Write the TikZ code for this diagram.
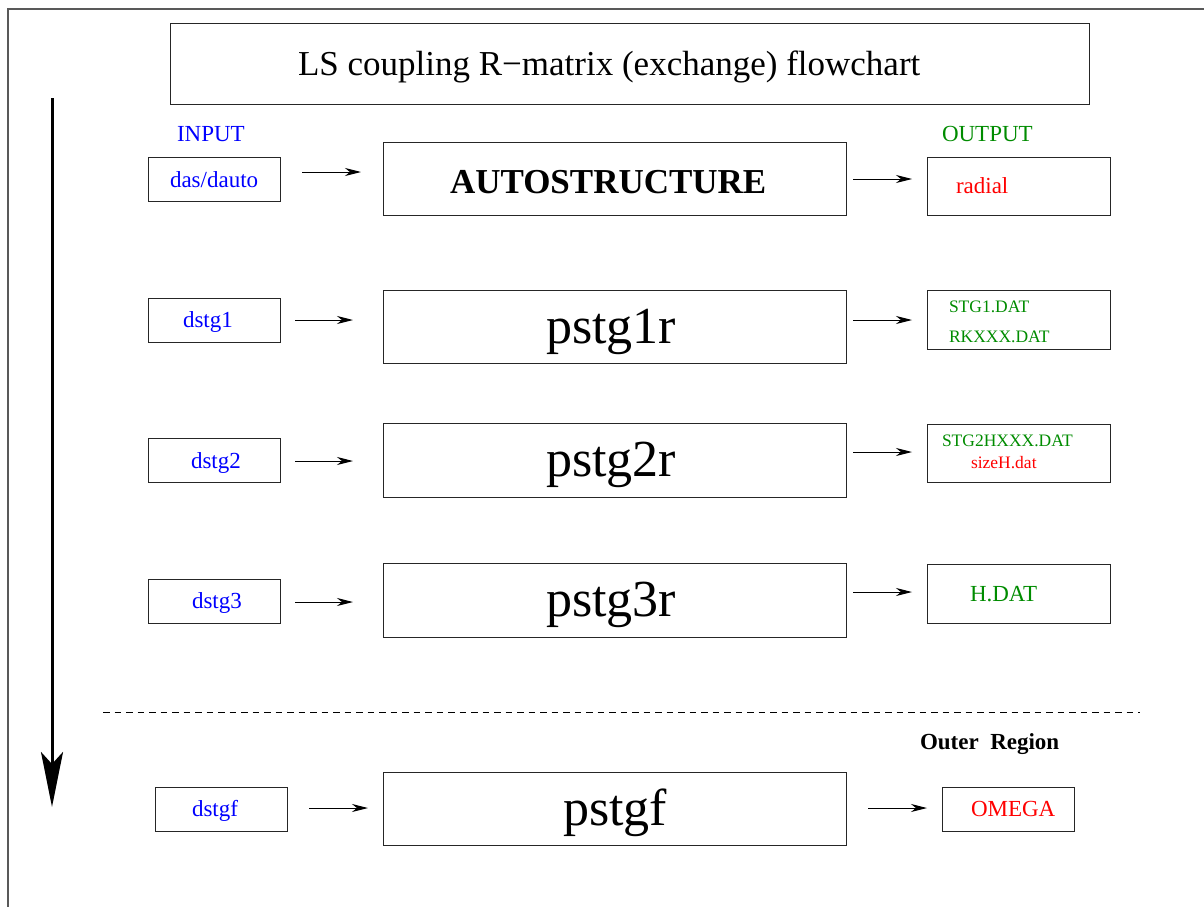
\documentclass[tikz,border=0pt]{standalone}
\usepackage{fontspec}
\setmainfont{Liberation Serif}
\usetikzlibrary{arrows.meta}
\definecolor{ogreen}{RGB}{0,140,0}
\definecolor{iblue}{RGB}{0,0,255}
\definecolor{ored}{RGB}{255,0,0}
\tikzset{
  boxnode/.style={draw=black!85, line width=1pt, inner sep=0pt, outer sep=0pt},
  txt/.style={anchor=base west, inner sep=0pt, outer sep=0pt},
  small/.style={txt, font=\fontsize{23}{26}\selectfont},
  tiny/.style={txt, font=\fontsize{17.5}{20}\selectfont, text=ogreen},
  prog/.style={txt, font=\fontsize{52}{56}\selectfont},
  arr/.style={line width=1pt, -{Stealth[length=16pt,width=8pt,inset=5pt]}},
  bigarr/.style={line width=3pt, -{Stealth[length=55pt,width=22pt,inset=12pt]}},
  frameline/.style={draw=black!65, line width=1.3pt},
}
\newcommand{\boxat}[5]{\node[boxnode, minimum width=#4pt-#2pt, minimum height=#5pt-#3pt, anchor=north west] (#1) at (#2,#3) {};}
\begin{document}
\begin{tikzpicture}[x=1pt,y=-1pt]
\useasboundingbox (0,0) rectangle (1204,907);
\fill[white] (0,0) rectangle (1204,907);
% frame
\draw[frameline] (8,907) -- (8,9) -- (1204,9);
% title
\boxat{title}{170}{24}{1089}{104}
\node[txt, font=\fontsize{35}{40}\selectfont] (titletext) at (298,75) {LS coupling R\textminus matrix (exchange) flowchart};
% big arrow
\coordinate (bigtop) at (52,98);
\coordinate (bigbot) at (52,807);
\draw[bigarr] (bigtop) -- (bigbot);
% headers
\node[small, text=iblue] (input) at (177,141) {INPUT};
\node[small, text=ogreen] (output) at (942,141) {OUTPUT};
% row 1
\boxat{in1}{148}{157}{280}{201}
\node[small, text=iblue] (in1t) at (170,187) {das/dauto};
\boxat{main1}{383}{142}{846}{215}
\node[txt, font=\bfseries\fontsize{35}{40}\selectfont] (main1t) at (450,193) {AUTOSTRUCTURE};
\boxat{out1}{927}{157}{1110}{215}
\node[small, text=ored] (out1t) at (956,193) {radial};
\coordinate (a1s) at (302,172); \coordinate (a1e) at (361,172);
\coordinate (b1s) at (853,179); \coordinate (b1e) at (912,179);
\draw[arr] (a1s) -- (a1e);
\draw[arr] (b1s) -- (b1e);
% row 2
\boxat{in2}{148}{298}{280}{342}
\node[small, text=iblue] (in2t) at (183,327) {dstg1};
\boxat{main2}{383}{290}{846}{363}
\node[prog] (main2t) at (546,343) {pstg1r};
\boxat{out2}{927}{290}{1110}{349}
\node[tiny] (out2a) at (949,312) {STG1.DAT};
\node[tiny] (out2b) at (949,342) {RKXXX.DAT};
\coordinate (a2s) at (295,320); \coordinate (a2e) at (353,320);
\coordinate (b2s) at (853,320); \coordinate (b2e) at (912,320);
\draw[arr] (a2s) -- (a2e);
\draw[arr] (b2s) -- (b2e);
% row 3
\boxat{in3}{148}{438}{280}{482}
\node[small, text=iblue] (in3t) at (191,468) {dstg2};
\boxat{main3}{383}{423}{846}{497}
\node[prog] (main3t) at (546,476) {pstg2r};
\boxat{out3}{927}{424}{1110}{482}
\node[tiny] (out3a) at (942,446) {STG2HXXX.DAT};
\node[tiny, text=ored] (out3b) at (971,468) {sizeH.dat};
\coordinate (a3s) at (295,461); \coordinate (a3e) at (353,461);
\coordinate (b3s) at (853,452); \coordinate (b3e) at (912,452);
\draw[arr] (a3s) -- (a3e);
\draw[arr] (b3s) -- (b3e);
% row 4
\boxat{in4}{148}{579}{280}{623}
\node[small, text=iblue] (in4t) at (192,608) {dstg3};
\boxat{main4}{383}{563}{846}{637}
\node[prog] (main4t) at (546,616) {pstg3r};
\boxat{out4}{927}{564}{1110}{623}
\node[small, text=ogreen] (out4t) at (970,601) {H.DAT};
\coordinate (a4s) at (295,602); \coordinate (a4e) at (353,602);
\coordinate (b4s) at (853,592); \coordinate (b4e) at (912,592);
\draw[arr] (a4s) -- (a4e);
\draw[arr] (b4s) -- (b4e);
% separator
\coordinate (sepl) at (103,712); \coordinate (sepr) at (1140,712);
\draw[line width=1pt, dash pattern=on 6.5pt off 5pt] (sepl) -- (sepr);
\node[txt, font=\bfseries\fontsize{23}{26}\selectfont] (outer) at (920,749) {Outer\ \ Region};
% row 5
\boxat{in5}{155}{787}{287}{831}
\node[small, text=iblue] (in5t) at (192,816) {dstgf};
\boxat{main5}{383}{772}{846}{845}
\node[prog] (main5t) at (563,825) {pstgf};
\boxat{out5}{942}{787}{1074}{831}
\node[small, text=ored] (out5t) at (971,816) {OMEGA};
\coordinate (a5s) at (309,808); \coordinate (a5e) at (368,808);
\coordinate (b5s) at (868,808); \coordinate (b5e) at (927,808);
\draw[arr] (a5s) -- (a5e);
\draw[arr] (b5s) -- (b5e);
\end{tikzpicture}
\end{document}
